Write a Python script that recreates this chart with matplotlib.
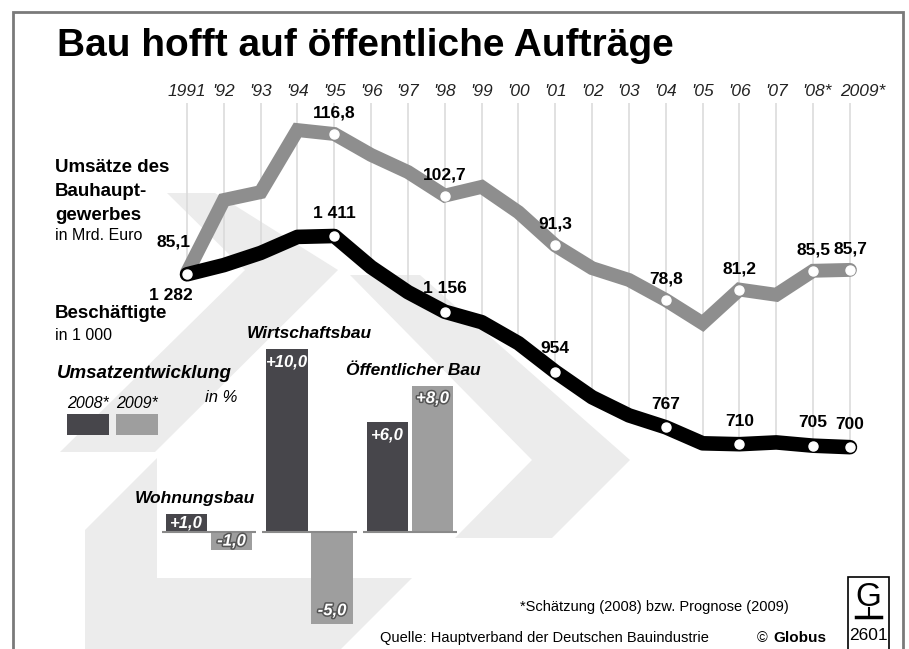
import matplotlib
matplotlib.use("Agg")
import matplotlib.pyplot as plt
from matplotlib.patches import Polygon, Rectangle
import matplotlib.patheffects as pe

plt.rcParams['font.family'] = ['Liberation Sans', 'DejaVu Sans']

# --- Daten ---
jahre = list(range(1991, 2010))
jahr_labels = ['1991', "'92", "'93", "'94", "'95", "'96", "'97", "'98", "'99", "'00",
               "'01", "'02", "'03", "'04", "'05", "'06", "'07", "'08*", '2009*']
umsatz = [85.1, 101.7, 103.5, 117.7, 116.8, 112.0, 108.1, 102.7, 104.7, 98.9,
          91.3, 86.1, 83.4, 78.8, 73.5, 81.2, 80.0, 85.5, 85.7]      # Mrd. Euro
beschaeftigte = [1282, 1313, 1354, 1408, 1411, 1306, 1222, 1156, 1121, 1050,
                 954, 868, 807, 767, 713, 710, 716, 705, 700]        # in 1 000
beschriftet = [0, 4, 7, 10, 13, 15, 17, 18]

sparten = ['Wohnungsbau', 'Wirtschaftsbau', 'Öffentlicher Bau']
werte_2008 = [1.0, 10.0, 6.0]
werte_2009 = [-1.0, -5.0, 8.0]

W, H = 909, 649
DUNKEL = '#47464b'
HELL = '#9e9e9e'
LINIE_GRAU = '#8e8e8e'
DEKO = '#ececec'

fig = plt.figure(figsize=(W / 100, H / 100), dpi=100)

# Hintergrund / Deko in Pixelkoordinaten
axd = fig.add_axes([0, 0, 1, 1], zorder=0)
axd.set_xlim(0, W)
axd.set_ylim(H, 0)
axd.axis('off')

for pts in ([(167, 193), (215, 193), (338, 270), (155, 452), (60, 452), (245, 270)],
            [(350, 275), (420, 275), (630, 460), (552, 538), (455, 538), (532, 460)],
            [(85, 530), (157, 458), (157, 578), (412, 578), (341, 649), (85, 649)]):
    axd.add_patch(Polygon(pts, closed=True, facecolor=DEKO, edgecolor='none'))

# Rahmen
axd.plot([13, 13, 903, 903], [H, 12, 12, H], color='#7a7a7a', lw=2, solid_joinstyle='miter')

axd.text(57, 46, 'Bau hofft auf öffentliche Aufträge', fontsize=28, fontweight='bold',
         ha='left', va='center')

txt = dict(ha='left', va='center')
axd.text(55, 168, 'Umsätze des', fontsize=13.5, fontweight='bold', **txt)
axd.text(55, 192, 'Bauhaupt-', fontsize=13.5, fontweight='bold', **txt)
axd.text(55, 215, 'gewerbes', fontsize=13.5, fontweight='bold', **txt)
axd.text(55, 236, 'in Mrd. Euro', fontsize=11.5, **txt)
axd.text(55, 313, 'Beschäftigte', fontsize=13.5, fontweight='bold', **txt)
axd.text(55, 335, 'in 1 000', fontsize=11.5, **txt)

axd.text(57, 374, 'Umsatzentwicklung', fontsize=13.5, fontweight='bold', style='italic', **txt)
axd.text(237, 397, 'in %', fontsize=12, style='italic', ha='right', va='center')
axd.text(67, 404, '2008*', fontsize=11.5, style='italic', **txt)
axd.text(116, 404, '2009*', fontsize=11.5, style='italic', **txt)
axd.add_patch(Rectangle((67, 414), 42, 21, facecolor=DUNKEL, edgecolor='none'))
axd.add_patch(Rectangle((116, 414), 42, 21, facecolor=HELL, edgecolor='none'))

axd.text(520, 607, '*Schätzung (2008) bzw. Prognose (2009)', fontsize=10.5, **txt)
axd.text(380, 638, 'Quelle: Hauptverband der Deutschen Bauindustrie', fontsize=10.5, **txt)
axd.text(757, 638, '©', fontsize=10.5, **txt)
axd.text(773, 638, 'Globus', fontsize=11, fontweight='bold', **txt)

# Globus-Logo
axd.add_patch(Rectangle((848, 577), 41, 80, facecolor='white', edgecolor='black', lw=1.2))
axd.text(868.5, 597, 'G', fontsize=24, ha='center', va='center')
axd.plot([868.5, 868.5], [608, 616], color='black', lw=1.5)
axd.plot([856, 881], [617, 617], color='black', lw=2.5)
axd.text(868.5, 636, '2601', fontsize=12.5, ha='center', va='center')

# --- Linien ---
x0 = 1991 - 187 / 36.83
x1 = 1991 + (W - 187) / 36.83
lim_b = (1411 - (H - 236) / 0.297, 1411 + 236 / 0.297)
lim_g = (116.8 - (H - 134) / 4.37, 116.8 + 134 / 4.37)

ax_grid = fig.add_axes([0, 0, 1, 1], zorder=1)
ax_gray = fig.add_axes([0, 0, 1, 1], zorder=2)
ax_blk = fig.add_axes([0, 0, 1, 1], zorder=3)
for a in (ax_grid, ax_gray, ax_blk):
    a.set_xlim(x0, x1)
    a.axis('off')
    a.patch.set_alpha(0)
ax_grid.set_ylim(*lim_b)
ax_blk.set_ylim(*lim_b)
ax_gray.set_ylim(*lim_g)

top_grid = 1411 + (236 - 103) / 0.297
ax_grid.vlines(jahre, beschaeftigte, top_grid, color='#d9d9d9', lw=1.1)
stern_dx = {"'08*": 4, '2009*': 13}   # Sternchen ragt rechts über die Linie hinaus
for j, lab in zip(jahre, jahr_labels):
    ax_grid.annotate(lab, (j, 1 - 91 / H), xycoords=ax_grid.get_xaxis_transform(),
                     xytext=(stern_dx.get(lab, 0), 0), textcoords='offset pixels',
                     fontsize=12.5, style='italic', ha='center', va='center', color='#222222')

ax_gray.plot(jahre, umsatz, color=LINIE_GRAU, lw=10, solid_joinstyle='miter',
             solid_capstyle='round')
ax_gray.plot([jahre[i] for i in beschriftet[1:]], [umsatz[i] for i in beschriftet[1:]],
             'o', color='white', ms=6.5)
ax_blk.plot(jahre, beschaeftigte, color='black', lw=10.5, solid_joinstyle='round',
            solid_capstyle='round')
ax_blk.plot([jahre[i] for i in beschriftet], [beschaeftigte[i] for i in beschriftet],
            'o', color='white', ms=6.5)

lab_kw = dict(textcoords='offset pixels', ha='center', va='center',
              fontsize=12.5, fontweight='bold')
for i in beschriftet:
    g_off = (-14, 31) if i == 0 else (0, 21)
    b_off = (-16, -21) if i == 0 else (0, 23)
    ax_gray.annotate(f'{umsatz[i]:.1f}'.replace('.', ','), (jahre[i], umsatz[i]),
                     xytext=g_off, **lab_kw)
    ax_blk.annotate(f'{beschaeftigte[i]:,}'.replace(',', ' '), (jahre[i], beschaeftigte[i]),
                    xytext=b_off, **lab_kw)

# --- Balken ---
ax_bar = fig.add_axes([0, 0, 1, 1], zorder=2)
ax_bar.set_xlim(-209 / 100.5, (W - 209) / 100.5)
ax_bar.set_ylim(-(H - 532) / 18.3, 532 / 18.3)
ax_bar.axis('off')
ax_bar.patch.set_alpha(0)

pos = list(range(len(sparten)))
off, bw = 0.224, 0.41
ax_bar.bar([p - off for p in pos], werte_2008, width=bw, color=DUNKEL)
ax_bar.bar([p + off for p in pos], werte_2009, width=bw, color=HELL)
ax_bar.hlines([0] * len(pos), [p - 0.47 for p in pos], [p + 0.47 for p in pos],
              color='#8a8a8a', lw=1.5)

outline = [pe.withStroke(linewidth=2.2, foreground='#555555')]
name_dx = [-0.14, 0.0, 0.03]
for p, name, a, b, dx in zip(pos, sparten, werte_2008, werte_2009, name_dx):
    ax_bar.text(p + dx, max(a, b, 0) + 0.85, name, fontsize=12.5, fontweight='bold',
                style='italic', ha='center', va='center')
    for xv, v, fx in ((p - off, a, None), (p + off, b, outline)):
        d = min(0.7, abs(v) / 2)
        yv = v - d if v > 0 else v + d
        t = f'{v:+.1f}'.replace('.', ',')
        ax_bar.text(xv, yv, t, fontsize=12, fontweight='bold', style='italic',
                    color='white', ha='center', va='center', path_effects=fx)

fig.savefig('out.png', dpi=100, facecolor='white')
